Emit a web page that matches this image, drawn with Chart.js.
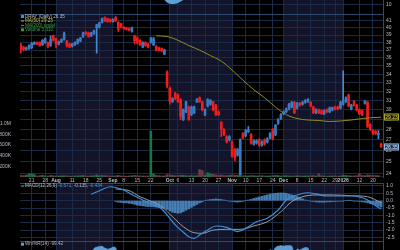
<!DOCTYPE html>
<html>
<head>
<meta charset="utf-8">
<title>DRAY daily</title>
<script src="https://cdn.jsdelivr.net/npm/chart.js@4.4.1/dist/chart.umd.min.js"></script>
<style>
  html, body { margin: 0; padding: 0; background: #000; width: 400px; height: 250px; overflow: hidden; }
  canvas { position: absolute; left: 0; }
</style>
</head>
<body>
<canvas id="topStrip" width="400" height="14" style="top:0px"></canvas>
<canvas id="priceChart" width="400" height="170" style="top:14px"></canvas>
<canvas id="macdChart" width="400" height="58" style="top:183px"></canvas>
<canvas id="wmrChart" width="400" height="52" style="top:241px"></canvas>
<script>
// ---------------- DATA (trading-day index 0 = Jul 15 2025) ----------------
const opens = [
  37.7, 37.4, 37.1, 37.2, 37.3, 37.8, 38.0, 38.0, 37.7, 38.0,
  38.0, 37.6, 38.9, 38.5, 37.8, 38.1, 38.4, 38.2, 37.8, 37.5,
  37.7, 37.9, 38.2, 38.8, 39.4, 39.3, 38.9, 39.2, 40.0, 40.1,
  40.8, 41.5, 41.3, 41.2, 40.9, 41.5, 40.8, 40.6, 40.1, 40.0,
  39.9, 39.5, 38.9, 38.6, 38.3, 37.4, 38.0, 37.8, 38.0, 37.7,
  37.5, 37.3, 37.2, 36.5, 34.3, 32.4, 30.9, 31.8, 31.6, 31.1,
  29.0, 29.8, 30.3, 29.5, 29.7, 30.85, 31.3, 30.85, 29.5, 30.4,
  30.6, 30.85, 30.5, 29.8, 28.7, 28.0, 27.3, 27.0, 26.8, 26.1,
  25.6, 23.9, 27.6, 27.4, 27.8, 27.5, 26.6, 26.7, 27.0, 26.5,
  27.0, 26.8, 27.2, 28.0, 27.5, 28.6, 29.1, 29.6, 29.8, 30.1,
  30.3, 30.8, 30.2, 30.7, 30.6, 30.8, 30.9, 30.8, 30.3, 29.7,
  30.0, 29.9, 29.6, 30.0, 29.8, 30.0, 30.3, 30.3, 30.2, 30.6,
  30.9, 31.6, 30.1, 30.9, 30.5, 30.0, 29.9, 30.7, 30.8, 28.5,
  27.9, 27.8, 27.5, 26.6
];
const highs = [
  37.9, 37.5, 37.4, 37.7, 38.0, 38.1, 38.1, 38.1, 38.4, 38.6,
  38.1, 38.9, 39.0, 38.6, 38.2, 38.5, 39.4, 38.3, 37.9, 37.9,
  38.1, 38.5, 38.7, 39.4, 39.5, 39.4, 39.4, 39.7, 40.5, 40.8,
  41.4, 41.6, 41.4, 41.3, 41.3, 41.7, 40.9, 40.7, 40.2, 40.1,
  40.0, 40.1, 39.0, 38.8, 38.4, 38.1, 38.1, 37.9, 38.7, 38.7,
  37.6, 37.4, 37.3, 37.1, 34.4, 32.5, 31.3, 31.9, 31.7, 31.2,
  30.1, 30.9, 30.4, 30.4, 30.4, 31.2, 31.4, 30.9, 30.1, 31.2,
  31.1, 30.9, 30.6, 29.9, 28.8, 28.1, 27.4, 27.4, 26.9, 26.2,
  26.2, 27.1, 27.7, 28.0, 28.3, 27.6, 27.0, 27.0, 27.1, 26.9,
  27.1, 27.2, 27.7, 28.1, 28.5, 29.1, 29.6, 29.9, 30.2, 30.7,
  30.9, 30.9, 30.8, 30.8, 30.9, 31.1, 31.2, 30.9, 30.4, 30.1,
  30.1, 30.0, 30.0, 30.1, 30.3, 30.3, 30.4, 30.4, 30.9, 34.4,
  31.4, 31.7, 30.6, 31.0, 30.6, 30.1, 30.0, 31.0, 30.9, 28.6,
  28.0, 27.9, 27.9, 26.7
];
const lows = [
  36.6, 36.9, 37.0, 37.1, 37.2, 37.7, 37.7, 37.5, 37.6, 37.9,
  37.3, 37.5, 38.2, 37.3, 37.7, 38.0, 38.3, 37.4, 37.3, 37.4,
  37.6, 37.8, 38.1, 38.7, 39.0, 38.7, 38.8, 39.1, 36.6, 40.0,
  40.7, 40.9, 40.8, 40.8, 40.8, 40.9, 39.5, 40.0, 39.8, 39.7,
  39.6, 39.4, 37.8, 37.8, 37.6, 37.3, 37.5, 37.3, 37.9, 37.6,
  36.9, 36.9, 36.8, 36.4, 32.4, 30.6, 30.8, 31.1, 30.8, 28.96,
  28.9, 29.7, 28.9, 29.4, 29.6, 30.8, 30.8, 29.9, 29.4, 30.3,
  30.5, 29.9, 29.4, 29.4, 27.3, 27.4, 26.7, 26.9, 25.4, 25.1,
  25.5, 23.9, 27.1, 27.3, 27.7, 26.6, 26.5, 26.6, 26.4, 26.4,
  26.5, 26.7, 27.1, 27.0, 27.4, 28.5, 29.0, 29.5, 29.7, 30.0,
  30.2, 29.6, 30.1, 30.4, 30.5, 30.7, 30.8, 30.3, 29.6, 29.6,
  29.6, 29.5, 29.5, 29.7, 29.7, 29.9, 30.0, 30.0, 30.1, 30.5,
  30.8, 30.3, 30.0, 30.4, 29.9, 29.5, 29.4, 30.6, 28.2, 27.9,
  27.5, 27.5, 27.1, 26.3
];
const closes = [
  37.1, 37.1, 37.3, 37.6, 37.9, 38.0, 37.8, 37.6, 38.3, 38.5,
  37.5, 38.4, 38.3, 37.8, 38.1, 38.4, 39.2, 37.6, 37.4, 37.8,
  38.0, 38.4, 38.6, 39.3, 39.2, 38.8, 39.3, 39.6, 40.4, 40.7,
  41.3, 41.0, 40.9, 40.9, 41.2, 41.0, 39.8, 40.1, 39.9, 39.8,
  39.7, 40.0, 38.2, 38.0, 37.7, 38.0, 37.6, 37.4, 38.6, 38.5,
  37.0, 37.0, 36.9, 37.0, 32.6, 30.9, 31.2, 31.2, 30.85, 29.3,
  30.0, 30.85, 29.0, 30.3, 30.3, 31.1, 30.85, 30.0, 30.0, 31.1,
  31.0, 30.0, 29.5, 29.5, 28.0, 27.5, 26.8, 27.3, 25.5, 25.35,
  26.1, 27.0, 27.2, 27.9, 27.95, 26.7, 26.9, 26.9, 26.5, 26.8,
  26.6, 27.1, 27.6, 27.1, 28.4, 29.0, 29.5, 29.8, 30.1, 30.6,
  30.8, 29.7, 30.7, 30.5, 30.8, 31.0, 31.1, 30.4, 29.7, 30.0,
  29.7, 29.6, 29.9, 29.8, 30.2, 30.2, 30.1, 30.1, 30.8, 31.0,
  31.3, 30.4, 30.5, 30.5, 30.0, 29.6, 29.5, 30.9, 28.3, 28.0,
  27.6, 27.6, 27.6, 26.35
];
// volume in thousands of shares
const volumesK = [
  30, 25, 35, 55, 60, 45, 20, 25, 30, 22,
  18, 28, 24, 20, 18, 22, 25, 20, 18, 15,
  20, 22, 25, 30, 20, 18, 22, 25, 40, 25,
  30, 28, 22, 20, 18, 25, 30, 22, 18, 16,
  20, 25, 30, 25, 22, 20, 18, 20, 860, 60,
  30, 25, 20, 22, 45, 40, 30, 25, 28, 35,
  30, 25, 22, 28, 20, 25, 140, 120, 35, 80,
  60, 50, 40, 30, 35, 28, 25, 30, 40, 35,
  30, 45, 25, 22, 20, 28, 24, 20, 22, 25,
  20, 18, 22, 25, 30, 28, 20, 22, 25, 20,
  18, 22, 25, 20, 18, 22, 20, 25, 28, 20,
  60, 25, 20, 15, 18, 20, 22, 15, 20, 35,
  30, 25, 20, 22, 25, 60, 30, 25, 40, 35,
  30, 28, 25, 3.31
];

const maIdx = [50, 54, 58, 62, 66, 70, 74, 78, 82, 86, 90, 94, 98, 102, 106, 110, 114, 118, 122, 126, 130, 133];
const maVals = [38.9, 38.8, 38.3, 37.6, 37.0, 36.3, 35.6, 34.5, 33.3, 32.2, 31.3, 30.3, 29.5, 29.1, 28.95, 28.9, 28.8, 28.85, 28.95, 29.1, 29.2, 29.23];

const macdIdx = [26, 29, 33, 35, 38, 41, 45, 49, 51, 53, 55, 57, 60, 62, 64, 66, 69, 72, 76, 80, 84, 87, 91, 95, 98, 102, 106, 109, 113, 118, 123, 126, 128, 130, 131, 133];
const macdVals = [0.44, 0.68, 0.95, 0.9, 0.73, 0.42, 0.05, -0.29, -0.41, -0.75, -1.2, -1.65, -2.15, -2.45, -2.56, -2.33, -2.0, -1.72, -1.81, -2.1, -1.77, -1.43, -1.2, -0.63, 0.05, 0.39, 0.54, 0.46, 0.32, 0.32, 0.32, 0.2, 0.05, -0.2, -0.35, -0.571];
const signalIdx = [35, 40, 44, 49, 52, 56, 60, 64, 67, 71, 76, 81, 86, 91, 96, 100, 104, 109, 115, 122, 128, 133];
const signalVals = [0.8, 0.68, 0.27, -0.11, -0.41, -1.09, -1.77, -2.18, -2.22, -2.0, -1.95, -1.95, -1.72, -1.43, -0.75, -0.07, 0.27, 0.39, 0.39, 0.34, 0.27, -0.135];
const histStart = 35;
const histVals = [
  -0.05, -0.1, -0.12, -0.15, -0.15, -0.18, -0.2,
  -0.25, -0.3, -0.33, -0.35, -0.38, -0.4, -0.4,
  -0.42, -0.45, -0.48, -0.5, -0.52,
  -0.6, -0.7, -0.78, -0.82, -0.85, -0.83,
  -0.75, -0.65, -0.55, -0.45, -0.35,
  -0.25, -0.15, -0.08, 0.0,
  0.05, 0.08, 0.1, 0.12, 0.1, 0.08, 0.05,
  0.0, -0.03, -0.05, -0.08, -0.1, -0.08, -0.05,
  0.0, 0.05, 0.1, 0.15, 0.2, 0.25, 0.3, 0.35, 0.4, 0.45, 0.48, 0.5, 0.52, 0.53,
  0.52, 0.5, 0.45, 0.4, 0.35, 0.28, 0.2,
  0.12, 0.05, 0.0,
  -0.03, -0.05, -0.08, -0.1, -0.1, -0.1, -0.08, -0.08, -0.06, -0.05, -0.04, -0.03, -0.02,
  0.0, 0.02, 0.0, -0.02, -0.03, -0.05,
  -0.08, -0.1, -0.15, -0.2, -0.25, -0.3, -0.38, -0.434
];

const wmrStart = 13;
const wmrVals = [
  -60, -50, -40, -11, -70, -80, -65, -55, -40, -30,
  -18, -25, -35, -20, -8, -5, -4, -3, -7, -9, -8, -5, -6,
  -35, -30, -40, -45, -50, -40,
  -75, -80, -85, -70, -80, -85, -55, -50, -80, -85, -88, -80,
  -98, -97, -90, -88, -95, -99,
  -80, -70, -90, -75, -75, -55, -60, -75, -78, -55, -55, -75, -82, -85,
  -95, -97, -99, -92, -99, -99, -90, -60,
  -55, -45, -45, -75, -70, -68, -78, -70, -72, -60,
  -10, -14, -6, -3, -2, -3, -2, -2, -3, -20, -9, -11, -8, -6, -7,
  -30, -45, -40, -48, -50, -45, -45, -35, -35, -38, -38, -20,
  -18, -15, -30, -35, -35, -45, -55, -58,
  -30, -85, -92, -97, -98, -95, -99.42
];

// strip of the panel above (only its lower edge is visible)
const topIdx = [53, 54, 55, 56, 57, 58, 59, 60];
const topVals = [15, 12.5, 11.2, 11, 11.3, 12, 13.5, 15];

const tickIdx = [4, 9, 13, 19, 24, 29, 34, 38, 43, 48, 55, 58, 63, 68, 73, 78, 83, 88, 93, 97, 102, 107, 112, 116, 119, 125, 130];
const tickLabels = ["21", "28", "Aug", "11", "18", "25", "Sep", "8", "15", "22", "Oct", "6", "13", "20", "27", "Nov", "10", "17", "24", "Dec", "8", "15", "22", "29", "2026", "12", "20"];
const monthLabels = ["Aug", "Sep", "Oct", "Nov", "Dec", "2026"];
const bandFrom = [13, 55, 97];
const bandTo = [34, 78, 119];

const priceTicks = [24, 25, 26, 27, 28, 29, 30, 31, 32, 33, 34, 35, 36, 37, 38, 39, 40, 41];
const volTicks = [200, 400, 600, 800, 1000];
const volTickLabels = ["200K", "400K", "600K", "800K", "1.0M"];
const macdTicks = [1, 0.5, 0, -0.5, -1, -1.5, -2, -2.5];

// ---------------- STYLE ----------------
const FONT = "'Liberation Sans', Arial, sans-serif";
const BG = "#000000";
const BAND = "#13142a";
const GRID = "#182a45";
const AXIS = "#2c4a6c";
const TXT = "#b9bdc8";
const UP = "#4a8ad0";
const UP_BODY = "#3a78c0";
const DOWN = "#f21c1c";
const X_MIN = -0.3, X_MAX = 133.7;

// ---------------- HELPERS ----------------
function xAxis(showLabels) {
  return {
    type: "linear", min: X_MIN, max: X_MAX, offset: false,
    afterBuildTicks: (s) => { s.ticks = tickIdx.map((v) => ({ value: v })); },
    afterFit: (s) => { s.height = showLabels ? 7 : 0; s.paddingLeft = 0; s.paddingRight = 0; },
    ticks: {
      display: showLabels, autoSkip: false, maxRotation: 0, minRotation: 0, padding: 1, color: TXT,
      font: (c) => ({ family: FONT, size: 5, weight: monthLabels.includes(tickLabels[c.index]) ? "bold" : "normal" }),
      callback: (v, i) => tickLabels[i],
    },
    grid: { color: GRID, lineWidth: 1, drawTicks: false, offset: false },
    border: { display: false },
  };
}

function rightAxis(type, min, max, tickList, labelFn) {
  return {
    type, position: "right", min, max, beginAtZero: false,
    afterBuildTicks: (s) => { s.ticks = tickList.map((v) => ({ value: v })); },
    afterFit: (s) => { s.width = 17; s.paddingTop = 0; s.paddingBottom = 0; },
    ticks: { color: TXT, padding: 3, autoSkip: false, font: { family: FONT, size: 5 }, callback: labelFn },
    grid: { color: GRID, lineWidth: 1, drawTicks: false },
    border: { display: true, color: AXIS },
  };
}

// month shading + panel top border
const bandsPlugin = {
  id: "bands",
  beforeDraw(chart, args, opts) {
    const { ctx, chartArea: a, scales } = chart;
    ctx.save();
    ctx.fillStyle = BG;
    ctx.fillRect(0, 0, chart.width, chart.height);
    ctx.fillStyle = BAND;
    bandFrom.forEach((from, k) => {
      const x0 = scales.x.getPixelForValue(from);
      const x1 = scales.x.getPixelForValue(bandTo[k]);
      ctx.fillRect(x0, a.top, x1 - x0, a.bottom - a.top);
    });
    ctx.restore();
  },
  afterDraw(chart, args, opts) {
    if (!opts.topLine) return;
    const { ctx, chartArea: a } = chart;
    ctx.save();
    ctx.strokeStyle = AXIS;
    ctx.beginPath();
    ctx.moveTo(a.left, a.top + 0.5);
    ctx.lineTo(a.right, a.top + 0.5);
    ctx.stroke();
    ctx.restore();
  },
};

// small legend rows: each item = [x, y, icon, [[text, color], ...]]
const legendPlugin = {
  id: "legendRows",
  afterDraw(chart, args, opts) {
    const ctx = chart.ctx;
    ctx.save();
    ctx.font = "4.6px " + FONT;
    ctx.textBaseline = "middle";
    (opts.rows || []).forEach(([x, y, icon, parts]) => {
      ctx.fillStyle = icon.color;
      if (icon.kind === "line") ctx.fillRect(x, y - 0.5, 3, 1);
      else ctx.fillRect(x, y - 1.5, 3, 3);
      let tx = x + 4;
      parts.forEach(([t, c]) => {
        ctx.fillStyle = c;
        ctx.fillText(t, tx, y);
        tx += ctx.measureText(t + " ").width;
      });
    });
    ctx.restore();
  },
};

// value boxes on the right axis
const boxPlugin = {
  id: "valueBoxes",
  afterDraw(chart, args, opts) {
    const ctx = chart.ctx;
    const sc = chart.scales[opts.axis || "y"];
    ctx.save();
    ctx.font = "5px " + FONT;
    ctx.textBaseline = "middle";
    ctx.textAlign = "center";
    (opts.boxes || []).forEach((b) => {
      const y = Math.round(sc.getPixelForValue(b.value));
      ctx.fillStyle = b.fill;
      ctx.fillRect(384, y - 3.5, 15, 7);
      ctx.strokeStyle = b.border;
      ctx.strokeRect(384.5, y - 3, 14, 6);
      ctx.fillStyle = b.color;
      ctx.fillText(b.text, 391.5, y + 0.3);
    });
    ctx.restore();
  },
};

const baseOptions = {
  responsive: false, animation: false, devicePixelRatio: 1, events: [],
};

// ---------------- PRICE PANEL ----------------
const idx = closes.map((_, i) => i);
const isUp = idx.map((i) => closes[i] >= opens[i]);

new Chart(document.getElementById("priceChart"), {
  type: "bar",
  data: {
    datasets: [
      {
        type: "line", data: maIdx.map((v, k) => ({ x: v, y: maVals[k] })), yAxisID: "y",
        borderColor: "#8f8d1e", borderWidth: 1, pointRadius: 0, cubicInterpolationMode: "monotone", order: 1,
      },
      {
        data: idx.map((i) => ({ x: i, y: [opens[i], closes[i]] })), yAxisID: "y", grouped: false,
        barThickness: 2, minBarLength: 1, borderSkipped: false,
        backgroundColor: idx.map((i) => (isUp[i] ? UP_BODY : DOWN)), order: 2,
      },
      {
        data: idx.map((i) => ({ x: i, y: [lows[i], highs[i]] })), yAxisID: "y", grouped: false,
        barThickness: 1, backgroundColor: idx.map((i) => (isUp[i] ? UP : DOWN)), order: 3,
      },
      {
        data: idx.map((i) => ({ x: i, y: volumesK[i] })), yAxisID: "yv", grouped: false,
        barThickness: 2, backgroundColor: idx.map((i) => (isUp[i] ? "#1f7048" : "#6e3a44")), order: 5,
      },
    ],
  },
  options: {
    ...baseOptions,
    layout: { padding: 0 },
    scales: {
      x: xAxis(true),
      y: rightAxis("logarithmic", 23.7, 42.0, priceTicks, (v) => String(v)),
      yv: {
        type: "linear", position: "left", min: 0, max: 3050,
        afterBuildTicks: (s) => { s.ticks = volTicks.map((v) => ({ value: v })); },
        afterFit: (s) => { s.width = 20; s.paddingTop = 0; s.paddingBottom = 0; },
        ticks: { color: TXT, padding: 1, font: { family: FONT, size: 5 }, callback: (v, i) => volTickLabels[i] },
        grid: { display: false }, border: { display: false },
      },
    },
    plugins: {
      legend: { display: false }, tooltip: { enabled: false },
      bands: { topLine: true },
      legendRows: {
        rows: [
          [21, 2.5, { kind: "box", color: UP }, [["DRAY (Daily) " + closes[closes.length - 1].toFixed(2), "#b4c0d4"]]],
          [21, 7, { kind: "line", color: "#b8b428" }, [["MA(50) " + maVals[maVals.length - 1].toFixed(2), "#c8c23c"]]],
          [21, 11.4, { kind: "line", color: "#3aa845" }, [["MA(200) undef", "#3aa845"]]],
          [21, 15.8, { kind: "box", color: "#2a9a55" }, [["Volume 3,310", "#34a05a"]]],
        ],
      },
      valueBoxes: {
        boxes: [
          { value: maVals[maVals.length - 1], text: maVals[maVals.length - 1].toFixed(2), fill: "#1c1c08", border: "#a8a42a", color: "#e0dc58" },
          { value: closes[closes.length - 1], text: closes[closes.length - 1].toFixed(2), fill: "#1d3654", border: "#8fb4dc", color: "#eef3fa" },
        ],
      },
    },
  },
  plugins: [bandsPlugin, legendPlugin, boxPlugin],
});

// ---------------- TOP STRIP ----------------
new Chart(document.getElementById("topStrip"), {
  type: "line",
  data: {
    datasets: [{
      data: topIdx.map((v, k) => ({ x: v, y: topVals[k] })), fill: "end",
      backgroundColor: "#5b9fd6", borderColor: "#5b9fd6", borderWidth: 0, pointRadius: 0, tension: 0.4,
    }],
  },
  options: {
    ...baseOptions,
    layout: { padding: { left: 20 } },
    scales: { x: xAxis(false), y: rightAxis("linear", 1, 15, [10], (v) => String(v)) },
    plugins: { legend: { display: false }, tooltip: { enabled: false }, bands: { topLine: false } },
  },
  plugins: [bandsPlugin],
});

// ---------------- MACD PANEL ----------------
new Chart(document.getElementById("macdChart"), {
  type: "bar",
  data: {
    datasets: [
      {
        type: "line", data: macdIdx.map((v, k) => ({ x: v, y: macdVals[k] })),
        borderColor: "#3b8ee0", borderWidth: 1.2, pointRadius: 0, cubicInterpolationMode: "monotone", order: 1,
      },
      {
        type: "line", data: signalIdx.map((v, k) => ({ x: v, y: signalVals[k] })),
        borderColor: "#9c9ca4", borderWidth: 1, pointRadius: 0, cubicInterpolationMode: "monotone", order: 2,
      },
      {
        data: histVals.map((v, k) => ({ x: histStart + k, y: v })), grouped: false,
        barThickness: 2, backgroundColor: "rgba(80,145,205,0.85)", order: 3,
      },
    ],
  },
  options: {
    ...baseOptions,
    layout: { padding: { left: 20 } },
    scales: { x: xAxis(false), y: rightAxis("linear", -2.742, 1.204, macdTicks, (v) => v.toFixed(1)) },
    plugins: {
      legend: { display: false }, tooltip: { enabled: false },
      bands: { topLine: true },
      legendRows: {
        rows: [[21, 3.2, { kind: "line", color: "#3b8ee0" }, [
          ["MACD(12,26,9)", "#b4bccb"],
          [macdVals[macdVals.length - 1].toFixed(3) + ",", "#4a9ae8"],
          [signalVals[signalVals.length - 1].toFixed(3) + ",", "#b4bccb"],
          [histVals[histVals.length - 1].toFixed(3), "#4a9ae8"],
        ]]],
      },
    },
  },
  plugins: [bandsPlugin, legendPlugin],
});

// ---------------- WILLIAMS %R PANEL ----------------
new Chart(document.getElementById("wmrChart"), {
  type: "line",
  data: {
    datasets: [{
      data: wmrVals.map((v, k) => ({ x: wmrStart + k, y: v })), fill: "start",
      backgroundColor: "#5b9fd6", borderColor: "#5b9fd6", borderWidth: 1, pointRadius: 0, tension: 0.3,
    }],
  },
  options: {
    ...baseOptions,
    layout: { padding: { left: 20 } },
    scales: { x: xAxis(false), y: rightAxis("linear", -100, 8, [-20, -80], (v) => String(v)) },
    plugins: {
      legend: { display: false }, tooltip: { enabled: false },
      bands: { topLine: true },
      legendRows: {
        rows: [[21, 3.2, { kind: "box", color: "#5b9fd6" }, [["Wm%R(14) " + wmrVals[wmrVals.length - 1].toFixed(2), "#b4bccb"]]]],
      },
    },
  },
  plugins: [bandsPlugin, legendPlugin],
});
</script>
</body>
</html>
